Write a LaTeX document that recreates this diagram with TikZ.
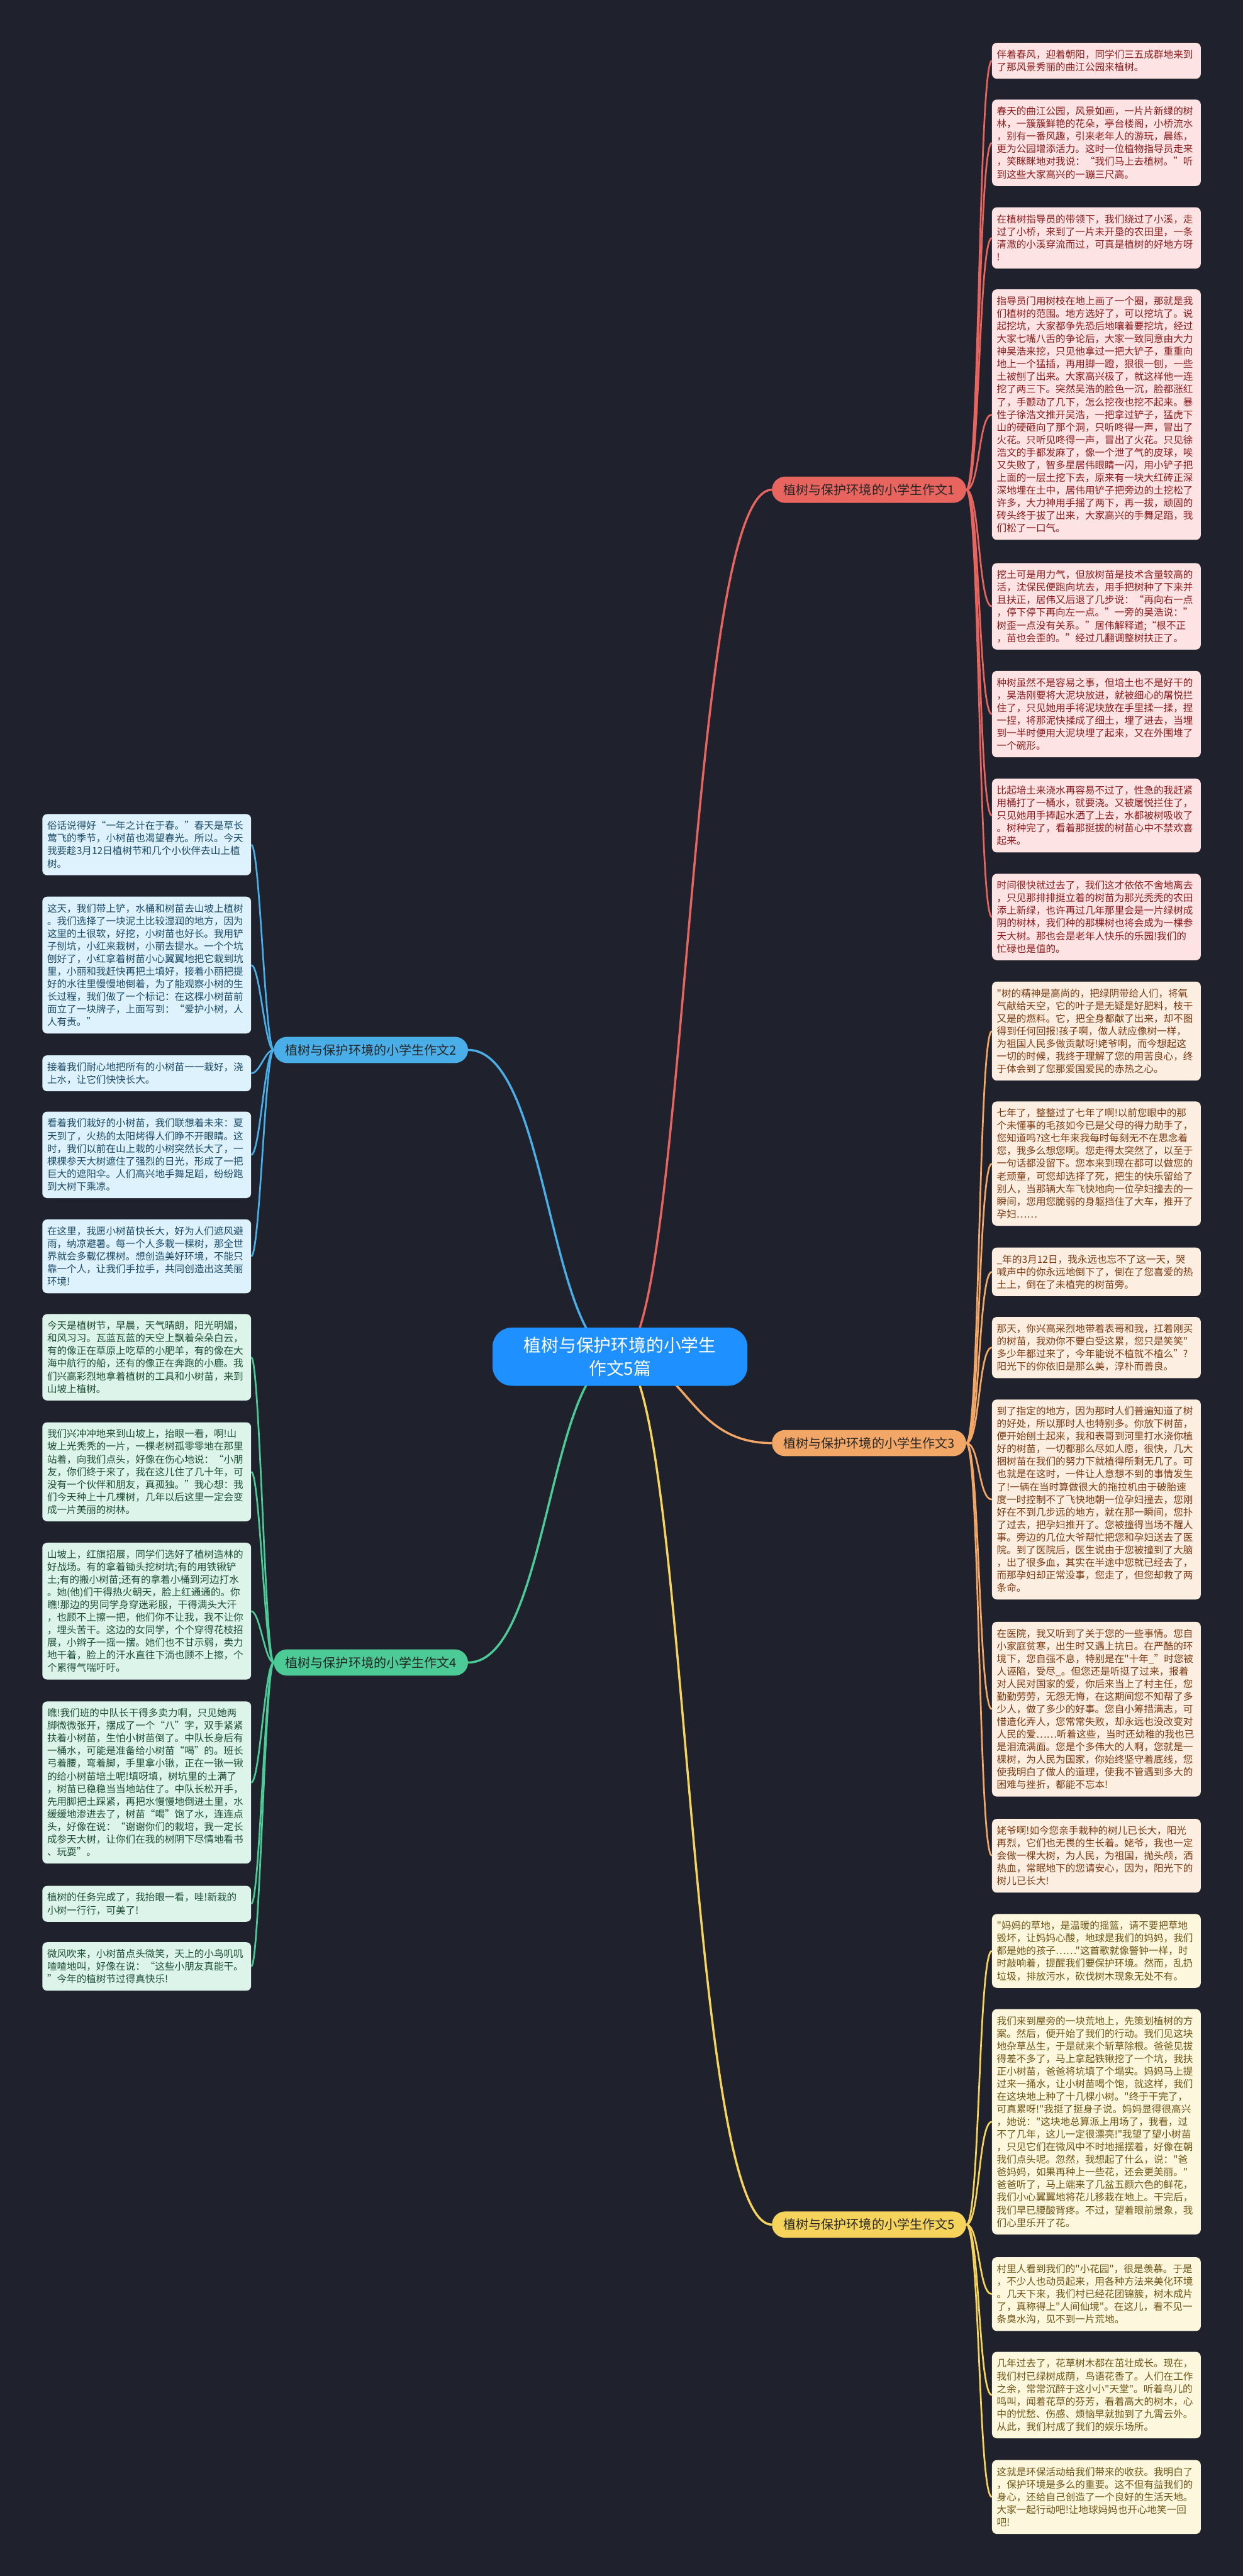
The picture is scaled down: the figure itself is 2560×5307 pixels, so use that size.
\documentclass[tikz,border=0pt]{standalone}
\usepackage{fontspec}
\setmainfont{Noto Sans CJK SC}[Ligatures=TeXOff]
\usetikzlibrary{calc}
\pgfdeclarelayer{bgl}
\pgfdeclarelayer{conn}
\pgfsetlayers{bgl,conn,main}
\definecolor{bgc}{HTML}{1F222D}
\definecolor{f1}{HTML}{FDE3E3}\definecolor{t1}{HTML}{8A1C1C}\definecolor{c1}{HTML}{E8655F}
\definecolor{f2}{HTML}{DDF2FC}\definecolor{t2}{HTML}{1B4A68}\definecolor{c2}{HTML}{4AAEE8}
\definecolor{f3}{HTML}{FDEEE2}\definecolor{t3}{HTML}{7B3A10}\definecolor{c3}{HTML}{F2A766}
\definecolor{f4}{HTML}{DDF4EA}\definecolor{t4}{HTML}{1B4D33}\definecolor{c4}{HTML}{4DCB96}
\definecolor{f5}{HTML}{FDF7DD}\definecolor{t5}{HTML}{6E5413}\definecolor{c5}{HTML}{F6D45C}
\definecolor{cenc}{HTML}{1E90FF}
\newcommand{\zs}{\rule[-5.5pt]{0pt}{26pt}}
\tikzset{
  leafbase/.style={rounded corners=10pt, inner xsep=10pt, inner ysep=11pt, text width=410pt, align=left, anchor=north west, font=\fontsize{20.2pt}{26pt}\selectfont},
  lf1/.style={leafbase, fill=f1, text=t1},
  lf2/.style={leafbase, fill=f2, text=t2},
  lf3/.style={leafbase, fill=f3, text=t3},
  lf4/.style={leafbase, fill=f4, text=t4},
  lf5/.style={leafbase, fill=f5, text=t5},
  brbox/.style={rounded corners=27pt, minimum width=400pt, minimum height=54pt, inner sep=0pt, text=black!85, font=\fontsize{26pt}{30pt}\selectfont},
  ln1/.style={draw=c1, line width=3.5pt},
  ln2/.style={draw=c2, line width=3.5pt},
  ln3/.style={draw=c3, line width=3.5pt},
  ln4/.style={draw=c4, line width=3.5pt},
  ln5/.style={draw=c5, line width=3.5pt},
  thick1/.style={line width=4.5pt},
}
\begin{document}
\begin{tikzpicture}[x=1pt,y=-1pt]
\useasboundingbox (0,0) rectangle (2560,5307);
\begin{pgfonlayer}{bgl}
\fill[bgc] (0,0) rectangle (2560,5307);
\end{pgfonlayer}

% centre
\node[fill=cenc, text=white, rounded corners=40pt, minimum width=525pt, minimum height=120pt, align=center, font=\fontsize{36pt}{48pt}\selectfont] (cn) at (1277,2795) {植树与保护环境的小学生\\作文5篇};

% branches
\node[brbox, fill=c1] (b1) at (1790,1009) {植树与保护环境的小学生作文1};
\node[brbox, fill=c2] (b2) at (764,2163) {植树与保护环境的小学生作文2};
\node[brbox, fill=c3] (b3) at (1790,2973) {植树与保护环境的小学生作文3};
\node[brbox, fill=c4] (b4) at (764,3425) {植树与保护环境的小学生作文4};
\node[brbox, fill=c5] (b5) at (1790,4583) {植树与保护环境的小学生作文5};

% story 1
\node[lf1] (r1a) at (2043,88) {\zs 伴着春风，迎着朝阳，同学们三五成群地来到\\\zs 了那风景秀丽的曲江公园来植树。};
\node[lf1] (r1b) at (2043,205) {\zs 春天的曲江公园，风景如画，一片片新绿的树\\\zs 林，一簇簇鲜艳的花朵，亭台楼阁，小桥流水\\\zs ，别有一番风趣，引来老年人的游玩，晨练，\\\zs 更为公园增添活力。这时一位植物指导员走来\\\zs ，笑眯眯地对我说：“我们马上去植树。”听\\\zs 到这些大家高兴的一蹦三尺高。};
\node[lf1] (r1c) at (2043,427) {\zs 在植树指导员的带领下，我们绕过了小溪，走\\\zs 过了小桥，来到了一片未开垦的农田里，一条\\\zs 清澈的小溪穿流而过，可真是植树的好地方呀\\\zs !};
\node[lf1] (r1d) at (2043,596) {\zs 指导员门用树枝在地上画了一个圈，那就是我\\\zs 们植树的范围。地方选好了，可以挖坑了。说\\\zs 起挖坑，大家都争先恐后地嚷着要挖坑，经过\\\zs 大家七嘴八舌的争论后，大家一致同意由大力\\\zs 神吴浩来挖，只见他拿过一把大铲子，重重向\\\zs 地上一个猛插，再用脚一蹬，狠很一刨，一些\\\zs 土被刨了出来。大家高兴极了，就这样他一连\\\zs 挖了两三下。突然吴浩的脸色一沉，脸都涨红\\\zs 了，手颤动了几下，怎么挖夜也挖不起来。暴\\\zs 性子徐浩文推开吴浩，一把拿过铲子，猛虎下\\\zs 山的硬砸向了那个洞，只听咚得一声，冒出了\\\zs 火花。只听见咚得一声，冒出了火花。只见徐\\\zs 浩文的手都发麻了，像一个泄了气的皮球，唉\\\zs 又失败了，智多星居伟眼睛一闪，用小铲子把\\\zs 上面的一层土挖下去，原来有一块大红砖正深\\\zs 深地埋在土中，居伟用铲子把旁边的土挖松了\\\zs 许多，大力神用手摇了两下，再一拔，顽固的\\\zs 砖头终于拔了出来，大家高兴的手舞足蹈，我\\\zs 们松了一口气。};
\node[lf1] (r1e) at (2043,1160) {\zs 挖土可是用力气，但放树苗是技术含量较高的\\\zs 活，沈保民便跑向坑去，用手把树种了下来并\\\zs 且扶正，居伟又后退了几步说：“再向右一点\\\zs ，停下停下再向左一点。”一旁的吴浩说：”\\\zs 树歪一点没有关系。”居伟解释道;“根不正\\\zs ，苗也会歪的。”经过几翻调整树扶正了。};
\node[lf1] (r1f) at (2043,1382) {\zs 种树虽然不是容易之事，但培土也不是好干的\\\zs ，吴浩刚要将大泥块放进，就被细心的屠悦拦\\\zs 住了，只见她用手将泥块放在手里揉一揉，捏\\\zs 一捏，将那泥快揉成了细土，埋了进去，当埋\\\zs 到一半时便用大泥块埋了起来，又在外围堆了\\\zs 一个碗形。};
\node[lf1] (r1g) at (2043,1604) {\zs 比起培土来浇水再容易不过了，性急的我赶紧\\\zs 用桶打了一桶水，就要浇。又被屠悦拦住了，\\\zs 只见她用手捧起水洒了上去，水都被树吸收了\\\zs 。树种完了，看着那挺拔的树苗心中不禁欢喜\\\zs 起来。};
\node[lf1] (r1h) at (2043,1800) {\zs 时间很快就过去了，我们这才依依不舍地离去\\\zs ，只见那排排挺立着的树苗为那光秃秃的农田\\\zs 添上新绿，也许再过几年那里会是一片绿树成\\\zs 阴的树林，我们种的那棵树也将会成为一棵参\\\zs 天大树。那也会是老年人快乐的乐园!我们的\\\zs 忙碌也是值的。};

% story 2
\node[lf2] (l2a) at (87,1677) {\zs 俗话说得好“一年之计在于春。”春天是草长\\\zs 莺飞的季节，小树苗也渴望春光。所以。今天\\\zs 我要趁3月12日植树节和几个小伙伴去山上植\\\zs 树。};
\node[lf2] (l2b) at (87,1847) {\zs 这天，我们带上铲，水桶和树苗去山坡上植树\\\zs 。我们选择了一块泥土比较湿润的地方，因为\\\zs 这里的土很软，好挖，小树苗也好长。我用铲\\\zs 子刨坑，小红来栽树，小丽去提水。一个个坑\\\zs 刨好了，小红拿着树苗小心翼翼地把它栽到坑\\\zs 里，小丽和我赶快再把土填好，接着小丽把提\\\zs 好的水往里慢慢地倒着，为了能观察小树的生\\\zs 长过程，我们做了一个标记：在这棵小树苗前\\\zs 面立了一块牌子，上面写到：“爱护小树，人\\\zs 人有责。”};
\node[lf2] (l2c) at (87,2174) {\zs 接着我们耐心地把所有的小树苗一一栽好，浇\\\zs 上水，让它们快快长大。};
\node[lf2] (l2d) at (87,2290) {\zs 看着我们栽好的小树苗，我们联想着未来：夏\\\zs 天到了，火热的太阳烤得人们睁不开眼睛。这\\\zs 时，我们以前在山上栽的小树突然长大了，一\\\zs 棵棵参天大树遮住了强烈的日光，形成了一把\\\zs 巨大的遮阳伞。人们高兴地手舞足蹈，纷纷跑\\\zs 到大树下乘凉。};
\node[lf2] (l2e) at (87,2512) {\zs 在这里，我愿小树苗快长大，好为人们遮风避\\\zs 雨，纳凉避暑。每一个人多栽一棵树，那全世\\\zs 界就会多载亿棵树。想创造美好环境，不能只\\\zs 靠一个人，让我们手拉手，共同创造出这美丽\\\zs 环境!};

% story 3
\node[lf3] (r3a) at (2043,2022) {\zs "树的精神是高尚的，把绿阴带给人们，将氧\\\zs 气献给天空，它的叶子是无疑是好肥料，枝干\\\zs 又是的燃料。它，把全身都献了出来，却不图\\\zs 得到任何回报!孩子啊，做人就应像树一样，\\\zs 为祖国人民多做贡献呀!姥爷啊，而今想起这\\\zs 一切的时候，我终于理解了您的用苦良心，终\\\zs 于体会到了您那爱国爱民的赤热之心。};
\node[lf3] (r3b) at (2043,2269) {\zs 七年了，整整过了七年了啊!以前您眼中的那\\\zs 个未懂事的毛孩如今已是父母的得力助手了，\\\zs 您知道吗?这七年来我每时每刻无不在思念着\\\zs 您，我多么想您啊。您走得太突然了，以至于\\\zs 一句话都没留下。您本来到现在都可以做您的\\\zs 老顽童，可您却选择了死，把生的快乐留给了\\\zs 别人，当那辆大车飞快地向一位孕妇撞去的一\\\zs 瞬间，您用您脆弱的身躯挡住了大车，推开了\\\zs 孕妇……};
\node[lf3] (r3c) at (2043,2570) {\zs \_年的3月12日，我永远也忘不了这一天，哭\\\zs 喊声中的你永远地倒下了，倒在了您喜爱的热\\\zs 土上，倒在了未植完的树苗旁。};
\node[lf3] (r3d) at (2043,2713) {\zs 那天，你兴高采烈地带着表哥和我，扛着刚买\\\zs 的树苗，我劝你不要白受这累，您只是笑笑"\\\zs 多少年都过来了，今年能说不植就不植么”?\\\zs 阳光下的你依旧是那么美，淳朴而善良。};
\node[lf3] (r3e) at (2043,2883) {\zs 到了指定的地方，因为那时人们普遍知道了树\\\zs 的好处，所以那时人也特别多。你放下树苗，\\\zs 便开始刨土起来，我和表哥到河里打水浇你植\\\zs 好的树苗，一切都那么尽如人愿，很快，几大\\\zs 捆树苗在我们的努力下就植得所剩无几了。可\\\zs 也就是在这时，一件让人意想不到的事情发生\\\zs 了!一辆在当时算做很大的拖拉机由于破胎速\\\zs 度一时控制不了飞快地朝一位孕妇撞去，您刚\\\zs 好在不到几步远的地方，就在那一瞬间，您扑\\\zs 了过去，把孕妇推开了。您被撞得当场不醒人\\\zs 事。旁边的几位大爷帮忙把您和孕妇送去了医\\\zs 院。到了医院后，医生说由于您被撞到了大脑\\\zs ，出了很多血，其实在半途中您就已经去了，\\\zs 而那孕妇却正常没事，您走了，但您却救了两\\\zs 条命。};
\node[lf3] (r3f) at (2043,3341) {\zs 在医院，我又听到了关于您的一些事情。您自\\\zs 小家庭贫寒，出生时又遇上抗日。在严酷的环\\\zs 境下，您自强不息，特别是在"十年\_”时您被\\\zs 人诬陷，受尽\_。但您还是听挺了过来，报着\\\zs 对人民对国家的爱，你后来当上了村主任，您\\\zs 勤勤劳劳，无怨无悔，在这期间您不知帮了多\\\zs 少人，做了多少的好事。您自小筹措满志，可\\\zs 惜造化弄人，您常常失败，却永远也没改变对\\\zs 人民的爱……听着这些，当时还幼稚的我也已\\\zs 是泪流满面。您是个多伟大的人啊，您就是一\\\zs 棵树，为人民为国家，你始终坚守着底线，您\\\zs 使我明白了做人的道理，使我不管遇到多大的\\\zs 困难与挫折，都能不忘本!};
\node[lf3] (r3g) at (2043,3747) {\zs 姥爷啊!如今您亲手栽种的树儿已长大，阳光\\\zs 再烈，它们也无畏的生长着。姥爷，我也一定\\\zs 会做一棵大树，为人民，为祖国，抛头颅，洒\\\zs 热血，常眠地下的您请安心，因为，阳光下的\\\zs 树儿已长大!};

% story 4
\node[lf4] (l4a) at (87,2707) {\zs 今天是植树节，早晨，天气晴朗，阳光明媚，\\\zs 和风习习。瓦蓝瓦蓝的天空上飘着朵朵白云，\\\zs 有的像正在草原上吃草的小肥羊，有的像在大\\\zs 海中航行的船，还有的像正在奔跑的小鹿。我\\\zs 们兴高彩烈地拿着植树的工具和小树苗，来到\\\zs 山坡上植树。};
\node[lf4] (l4b) at (87,2930) {\zs 我们兴冲冲地来到山坡上，抬眼一看，啊!山\\\zs 坡上光秃秃的一片，一棵老树孤零零地在那里\\\zs 站着，向我们点头，好像在伤心地说：“小朋\\\zs 友，你们终于来了，我在这儿住了几十年，可\\\zs 没有一个伙伴和朋友，真孤独。”我心想：我\\\zs 们今天种上十几棵树，几年以后这里一定会变\\\zs 成一片美丽的树林。};
\node[lf4] (l4c) at (87,3178) {\zs 山坡上，红旗招展，同学们选好了植树造林的\\\zs 好战场。有的拿着锄头挖树坑;有的用铁锹铲\\\zs 土;有的搬小树苗;还有的拿着小桶到河边打水\\\zs 。她(他)们干得热火朝天，脸上红通通的。你\\\zs 瞧!那边的男同学身穿迷彩服，干得满头大汗\\\zs ，也顾不上擦一把，他们你不让我，我不让你\\\zs ，埋头苦干。这边的女同学，个个穿得花枝招\\\zs 展，小辫子一摇一摆。她们也不甘示弱，卖力\\\zs 地干着，脸上的汗水直往下淌也顾不上擦，个\\\zs 个累得气喘吁吁。};
\node[lf4] (l4d) at (87,3505) {\zs 瞧!我们班的中队长干得多卖力啊，只见她两\\\zs 脚微微张开，摆成了一个“八”字，双手紧紧\\\zs 扶着小树苗，生怕小树苗倒了。中队长身后有\\\zs 一桶水，可能是准备给小树苗“喝”的。班长\\\zs 弓着腰，弯着脚，手里拿小锹，正在一锹一锹\\\zs 的给小树苗培土呢!填呀填，树坑里的土满了\\\zs ，树苗已稳稳当当地站住了。中队长松开手，\\\zs 先用脚把土踩紧，再把水慢慢地倒进土里，水\\\zs 缓缓地渗进去了，树苗“喝”饱了水，连连点\\\zs 头，好像在说：“谢谢你们的栽培，我一定长\\\zs 成参天大树，让你们在我的树阴下尽情地看书\\\zs 、玩耍”。};
\node[lf4] (l4e) at (87,3885) {\zs 植树的任务完成了，我抬眼一看，哇!新栽的\\\zs 小树一行行，可美了!};
\node[lf4] (l4f) at (87,4001) {\zs 微风吹来，小树苗点头微笑，天上的小鸟叽叽\\\zs 喳喳地叫，好像在说：“这些小朋友真能干。\\\zs ”今年的植树节过得真快乐!};

% story 5
\node[lf5] (r5a) at (2043,3943) {\zs "妈妈的草地，是温暖的摇篮，请不要把草地\\\zs 毁坏，让妈妈心酸，地球是我们的妈妈，我们\\\zs 都是她的孩子……"这首歌就像警钟一样，时\\\zs 时敲响着，提醒我们要保护环境。然而，乱扔\\\zs 垃圾，排放污水，砍伐树木现象无处不有。};
\node[lf5] (r5b) at (2043,4139) {\zs 我们来到屋旁的一块荒地上，先策划植树的方\\\zs 案。然后，便开始了我们的行动。我们见这块\\\zs 地杂草丛生，于是就来个斩草除根。爸爸见拔\\\zs 得差不多了，马上拿起铁锹挖了一个坑，我扶\\\zs 正小树苗，爸爸将坑填了个塌实。妈妈马上提\\\zs 过来一捅水，让小树苗喝个饱，就这样，我们\\\zs 在这块地上种了十几棵小树。"终于干完了，\\\zs 可真累呀!"我挺了挺身子说。妈妈显得很高兴\\\zs ，她说："这块地总算派上用场了，我看，过\\\zs 不了几年，这儿一定很漂亮!"我望了望小树苗\\\zs ，只见它们在微风中不时地摇摆着，好像在朝\\\zs 我们点头呢。忽然，我想起了什么，说："爸\\\zs 爸妈妈，如果再种上一些花，还会更美丽。"\\\zs 爸爸听了，马上端来了几盆五颜六色的鲜花，\\\zs 我们小心翼翼地将花儿移栽在地上。干完后，\\\zs 我们早已腰酸背疼。不过，望着眼前景象，我\\\zs 们心里乐开了花。};
\node[lf5] (r5c) at (2043,4650) {\zs 村里人看到我们的"小花园"，很是羡慕。于是\\\zs ，不少人也动员起来，用各种方法来美化环境\\\zs 。几天下来，我们村已经花团锦簇，树木成片\\\zs 了，真称得上"人间仙境"。在这儿，看不见一\\\zs 条臭水沟，见不到一片荒地。};
\node[lf5] (r5d) at (2043,4845) {\zs 几年过去了，花草树木都在茁壮成长。现在，\\\zs 我们村已绿树成荫，鸟语花香了。人们在工作\\\zs 之余，常常沉醉于这小小"天堂"。听着鸟儿的\\\zs 鸣叫，闻着花草的芬芳，看着高大的树木，心\\\zs 中的忧愁、伤感、烦恼早就抛到了九霄云外。\\\zs 从此，我们村成了我们的娱乐场所。};
\node[lf5] (r5e) at (2043,5068) {\zs 这就是环保活动给我们带来的收获。我明白了\\\zs ，保护环境是多么的重要。这不但有益我们的\\\zs 身心，还给自己创造了一个良好的生活天地。\\\zs 大家一起行动吧!让地球妈妈也开心地笑一回\\\zs 吧!};

\begin{pgfonlayer}{conn}
% centre to branches
\draw[ln1, thick1] (cn.center) .. controls (1415,2795) and (1415,1009) .. (b1.west);
\draw[ln3, thick1] (cn.center) .. controls (1415,2795) and (1415,2973) .. (b3.west);
\draw[ln5, thick1] (cn.center) .. controls (1415,2795) and (1415,4583) .. (b5.west);
\draw[ln2, thick1] (cn.center) .. controls (1130,2795) and (1130,2163) .. (b2.east);
\draw[ln4, thick1] (cn.center) .. controls (1130,2795) and (1130,3425) .. (b4.east);
% branches to leaves
\foreach \l in {r1a,r1b,r1c,r1d,r1e,r1f,r1g,r1h}
  \draw[ln1] (b1.east) .. controls +(28,0) and +(-28,0) .. (\l.west);
\foreach \l in {r3a,r3b,r3c,r3d,r3e,r3f,r3g}
  \draw[ln3] (b3.east) .. controls +(28,0) and +(-28,0) .. (\l.west);
\foreach \l in {r5a,r5b,r5c,r5d,r5e}
  \draw[ln5] (b5.east) .. controls +(28,0) and +(-28,0) .. (\l.west);
\foreach \l in {l2a,l2b,l2c,l2d,l2e}
  \draw[ln2] (b2.west) .. controls +(-18,0) and +(18,0) .. (\l.east);
\foreach \l in {l4a,l4b,l4c,l4d,l4e,l4f}
  \draw[ln4] (b4.west) .. controls +(-18,0) and +(18,0) .. (\l.east);
\end{pgfonlayer}
\end{tikzpicture}
\end{document}
